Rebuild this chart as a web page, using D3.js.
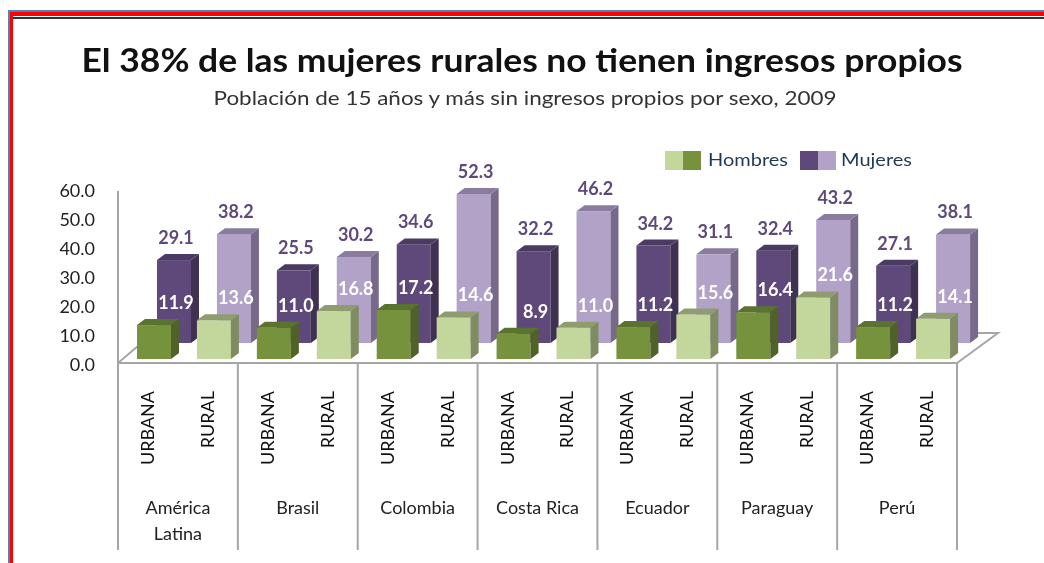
<!DOCTYPE html>
<html>
<head>
<meta charset="utf-8">
<script src="https://d3js.org/d3.v7.min.js"></script>
<style>
  html, body { margin: 0; padding: 0; background: #fff; }
  svg { display: block; font-family: Lato, sans-serif; filter: blur(0.5px); }
</style>
</head>
<body>
<svg id="chart" width="1044" height="563"></svg>
<script>
// Data
const countries = ["América Latina", "Brasil", "Colombia", "Costa Rica", "Ecuador", "Paraguay", "Perú"];
const areas = ["URBANA", "RURAL"];
const hombres = [11.9, 13.6, 11.0, 16.8, 17.2, 14.6, 8.9, 11.0, 11.2, 15.6, 16.4, 21.6, 11.2, 14.1];
const mujeres = [29.1, 38.2, 25.5, 30.2, 34.6, 52.3, 32.2, 46.2, 34.2, 31.1, 32.4, 43.2, 27.1, 38.1];
const yTicks = [0, 10, 20, 30, 40, 50, 60];

// Colours: front, side, top
const urbanHombres = ["#76923c", "#4f6228", "#5b7331"];
const ruralHombres = ["#c3d69b", "#7f8c62", "#8f9c70"];
const urbanMujeres = ["#5f497a", "#3f3151", "#4b3a62"];
const ruralMujeres = ["#b2a2c7", "#77698a", "#8a7c9e"];

// Layout
const svg = d3.select("#chart");
const plotLeft = 118;
const plotRight = 957;
const frontBase = 359;
const backBase = 343;
const barWidth = 34;
const depthX = 8;
const depthY = 6;

// Scales
const keys = countries.flatMap((c) => areas.map((a) => `${c}|${a}`));
const x = d3.scaleBand().domain(keys).range([plotLeft, plotRight]);
const groupX = d3.scaleBand().domain(countries).range([plotLeft, plotRight]);
const barHeight = d3.scaleLinear().domain([0, 60]).range([0, 171]);
const tickY = d3.scaleLinear().domain([0, 60]).range([365, 191]);

// Page frame
svg.append("rect").attr("x", 8).attr("y", 10).attr("width", 1036).attr("height", 2).attr("fill", "#4f81bd");
svg.append("rect").attr("x", 8).attr("y", 10).attr("width", 2).attr("height", 553).attr("fill", "#4f81bd");
svg.append("rect").attr("x", 10).attr("y", 12).attr("width", 1034).attr("height", 4).attr("fill", "#ff0000");
svg.append("rect").attr("x", 10).attr("y", 12).attr("width", 3).attr("height", 551).attr("fill", "#ff0000");
svg.append("rect").attr("x", 13).attr("y", 17).attr("width", 1031).attr("height", 2).attr("fill", "#333");

// Titles
svg.append("text")
  .attr("x", 522).attr("y", 72)
  .attr("text-anchor", "middle")
  .attr("font-size", 33).attr("font-weight", 700).attr("fill", "#111")
  .attr("textLength", 881).attr("lengthAdjust", "spacingAndGlyphs")
  .text("El 38% de las mujeres rurales no tienen ingresos propios");
svg.append("text")
  .attr("x", 525).attr("y", 105)
  .attr("text-anchor", "middle")
  .attr("font-size", 19).attr("fill", "#333")
  .attr("textLength", 623).attr("lengthAdjust", "spacingAndGlyphs")
  .text("Población de 15 años y más sin ingresos propios por sexo, 2009");

// Legend
const legend = [
  { label: "Hombres", x: 665, textX: 708, width: 80, colors: [ruralHombres[0], urbanHombres[0]] },
  { label: "Mujeres", x: 800, textX: 841, width: 71, colors: [urbanMujeres[0], ruralMujeres[0]] },
];
legend.forEach((d) => {
  d.colors.forEach((c, i) => {
    svg.append("rect").attr("x", d.x + i * 18).attr("y", 151).attr("width", 18).attr("height", 19).attr("fill", c);
  });
  svg.append("text")
    .attr("x", d.textX).attr("y", 166)
    .attr("font-size", 18).attr("fill", "#1f3a54")
    .attr("textLength", d.width).attr("lengthAdjust", "spacingAndGlyphs")
    .text(d.label);
});

// Y axis labels
const yAxis = d3.axisLeft(tickY).tickValues(yTicks).tickFormat(d3.format(".1f")).tickSize(0).tickPadding(0);
const yAxisG = svg.append("g").attr("transform", "translate(95,0)").call(yAxis);
yAxisG.select(".domain").remove();
yAxisG.selectAll("text")
  .attr("font-family", "Lato, sans-serif")
  .attr("font-size", 18).attr("fill", "#222");

// Wall and floor
const gridColor = "#a6a6a6";
const chrome = svg.append("g").attr("fill", "none").attr("stroke", gridColor).attr("stroke-width", 2);
chrome.append("line").attr("x1", plotLeft).attr("y1", 191).attr("x2", plotLeft).attr("y2", 363);
chrome.append("polyline").attr("points", `${plotLeft},363 ${plotRight},363 998,333 977,333`);
chrome.append("line").attr("x1", plotLeft).attr("y1", 363).attr("x2", 138).attr("y2", 346);

// Category dividers
const dividers = countries.map((c) => groupX(c)).concat(plotRight);
svg.append("g").selectAll("line").data(dividers).enter().append("line")
  .attr("x1", (d) => d).attr("x2", (d) => d)
  .attr("y1", 363).attr("y2", 550)
  .attr("stroke", gridColor).attr("stroke-width", 2);

// One 3D bar: front, side and top faces
const drawBar = (g, left, base, h, colors) => {
  const top = base - h;
  g.append("rect").attr("x", left).attr("y", top).attr("width", barWidth).attr("height", h).attr("fill", colors[0]);
  g.append("polygon")
    .attr("points", `${left + barWidth},${top} ${left + barWidth + depthX},${top - depthY} ${left + barWidth + depthX},${base - depthY} ${left + barWidth},${base}`)
    .attr("fill", colors[1]);
  g.append("polygon")
    .attr("points", `${left},${top} ${left + depthX},${top - depthY} ${left + barWidth + depthX},${top - depthY} ${left + barWidth},${top}`)
    .attr("fill", colors[2]);
};

const bars = svg.append("g");
keys.forEach((k, i) => {
  const colors = i % 2 === 0 ? urbanMujeres : ruralMujeres;
  drawBar(bars, x(k) + 39, backBase, barHeight(mujeres[i]), colors);
});
keys.forEach((k, i) => {
  const colors = i % 2 === 0 ? urbanHombres : ruralHombres;
  drawBar(bars, x(k) + 19, frontBase, barHeight(hombres[i]), colors);
});

// Data labels
const labels = svg.append("g")
  .attr("text-anchor", "middle")
  .attr("font-size", 18)
  .attr("font-weight", 700);
keys.forEach((k, i) => {
  const cx = x(k) + 58;
  labels.append("text")
    .attr("x", cx).attr("y", backBase - barHeight(mujeres[i]) - 16)
    .attr("fill", "#5f497a")
    .text(mujeres[i].toFixed(1));
  labels.append("text")
    .attr("x", cx).attr("y", frontBase - barHeight(hombres[i]) - 16)
    .attr("fill", "#fff")
    .text(hombres[i].toFixed(1));
});

// Area labels (rotated)
const areaLabels = svg.append("g").attr("font-size", 18).attr("fill", "#111");
keys.forEach((k) => {
  const cx = x(k) + x.bandwidth() / 2;
  areaLabels.append("text")
    .attr("transform", `translate(${cx + 6},391) rotate(-90)`)
    .attr("text-anchor", "end")
    .text(k.split("|")[1]);
});

// Country labels, two lines when the name does not fit
const countryLabels = svg.append("g").attr("font-size", 18).attr("fill", "#222").attr("text-anchor", "middle");
countries.forEach((c) => {
  const cx = groupX(c) + groupX.bandwidth() / 2;
  const lines = c === "América Latina" ? c.split(" ") : [c];
  lines.forEach((line, i) => {
    countryLabels.append("text").attr("x", cx).attr("y", 514 + i * 26).text(line);
  });
});
</script>
</body>
</html>
